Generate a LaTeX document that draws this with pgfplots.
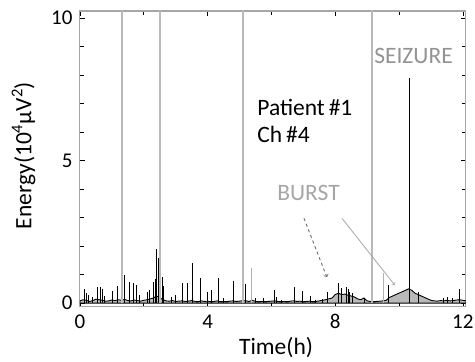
\documentclass[border=0pt]{standalone}
\usepackage{pgfplots}
\pgfplotsset{compat=1.18}
\usepackage{fontspec}
\setmainfont{Carlito}
\begin{document}
\begin{tikzpicture}
\useasboundingbox (-80pt,-56pt) rectangle (395pt,306pt);
\begin{axis}[
  at={(0pt,0pt)}, anchor=south west,
  scale only axis,
  width=386pt, height=295pt,
  xmin=0, xmax=12.1, ymin=-0.1, ymax=10.25,
  xtick={0,4,8,12}, minor xtick={2,6,10},
  ytick={0,5,10}, minor ytick={1,2,3,4,6,7,8,9},
  /pgf/number format/assume math mode=true,
  tick label style={font=\fontsize{21}{24}\selectfont},
  xticklabel style={yshift=-5pt},
  yticklabel style={xshift=-4pt},
  axis line style={gray!70, line width=1pt},
  tick style={black, line width=0.6pt},
  major tick length=5pt, minor tick length=4pt,
  clip=true,
  xlabel={Time(h)},
  ylabel={Energy(10\textsuperscript{4}μV\textsuperscript{2})},
  label style={font=\fontsize{23.5}{28}\selectfont},
  xlabel style={at={(axis description cs:0.508,-0.142)}, anchor=center},
  ylabel style={at={(axis description cs:-0.146,0.51)}, anchor=center, rotate=0},
]
% baseline energy
\addplot[draw=black, line width=0.9pt, fill=gray!55] table {
x y
0.0 0.08
0.1 0.12
0.2 0.10
0.3 0.06
0.4 0.09
0.5 0.14
0.6 0.12
0.7 0.10
0.8 0.07
0.9 0.08
1.0 0.11
1.1 0.09
1.2 0.12
1.3 0.10
1.4 0.13
1.5 0.09
1.6 0.08
1.7 0.11
1.8 0.09
1.9 0.07
2.0 0.10
2.1 0.12
2.2 0.15
2.3 0.18
2.4 0.25
2.5 0.20
2.6 0.12
2.7 0.08
2.8 0.07
2.9 0.09
3.0 0.06
3.1 0.07
3.2 0.08
3.3 0.06
3.4 0.07
3.5 0.09
3.6 0.06
3.7 0.05
3.8 0.08
3.9 0.06
4.0 0.07
4.1 0.05
4.2 0.06
4.3 0.08
4.4 0.05
4.5 0.06
4.6 0.05
4.7 0.07
4.8 0.08
4.9 0.06
5.0 0.07
5.1 0.09
5.2 0.08
5.3 0.06
5.4 0.10
5.5 0.06
5.6 0.05
5.7 0.06
5.8 0.05
5.9 0.06
6.0 0.07
6.1 0.08
6.2 0.06
6.3 0.05
6.4 0.06
6.5 0.05
6.6 0.07
6.7 0.08
6.8 0.06
6.9 0.07
7.0 0.05
7.1 0.06
7.2 0.07
7.3 0.05
7.4 0.06
7.5 0.08
7.6 0.10
7.7 0.12
7.8 0.15
7.9 0.18
8.0 0.30
8.1 0.35
8.2 0.30
8.3 0.32
8.4 0.28
8.5 0.25
8.6 0.22
8.7 0.15
8.8 0.12
8.9 0.18
9.0 0.08
9.1 0.06
9.2 0.05
9.3 0.06
9.4 0.07
9.5 0.08
9.6 0.10
9.7 0.20
9.8 0.25
9.9 0.30
10.0 0.35
10.1 0.40
10.2 0.45
10.3 0.50
10.4 0.45
10.5 0.35
10.6 0.30
10.7 0.25
10.8 0.20
10.9 0.15
11.0 0.10
11.1 0.08
11.2 0.07
11.3 0.09
11.4 0.08
11.5 0.10
11.6 0.08
11.7 0.09
11.8 0.11
11.9 0.12
12.0 0.10
12.1 0.08
} \closedcycle;
% spikes
\addplot[ycomb, black, line width=0.9pt] table {
x y
0.13 0.49
0.19 0.35
0.25 0.30
0.40 0.22
0.56 0.56
0.63 0.55
0.69 0.49
0.78 0.25
1.03 0.42
1.16 0.60
1.38 0.98
1.54 0.74
1.69 0.70
1.78 0.63
1.85 0.30
2.10 0.39
2.19 0.46
2.29 0.74
2.36 0.85
2.41 1.90
2.45 1.60
2.57 0.91
2.62 0.60
2.88 0.21
2.98 0.28
3.20 0.70
3.36 0.70
3.54 1.40
3.79 0.88
4.00 0.39
4.13 0.46
4.33 0.88
4.51 0.18
4.80 0.77
5.08 0.56
5.20 0.67
5.49 0.18
5.74 0.18
6.08 0.46
6.17 0.21
6.33 0.12
6.71 0.56
6.96 0.42
7.21 0.25
7.37 0.12
7.59 0.15
7.77 0.39
8.09 0.70
8.21 0.53
8.34 0.56
8.40 0.49
8.46 0.39
8.55 0.35
8.93 0.18
9.68 0.63
10.60 0.39
11.38 0.18
11.53 0.21
11.69 0.18
11.91 0.49
};
% grey spikes
\addplot[ycomb, gray!60, line width=1.1pt] table {
x y
5.39 1.23
9.50 1.05
};
% artefact lines (full scale)
\addplot[ycomb, gray!55, line width=1.8pt] table {
x y
1.32 11
2.51 11
5.11 11
9.15 11
};
% seizure spike
\addplot[ycomb, black, line width=0.9pt] table {
x y
10.34 7.9
};
\node[anchor=base west, font=\fontsize{23.5}{28}\selectfont] at (axis cs:5.45,6.6) {Patient\,\#1};
\node[anchor=base west, font=\fontsize{23.5}{28}\selectfont] at (axis cs:5.45,5.65) {Ch\,\#4};
\node[anchor=base west, inner sep=0pt, text=gray!85, font=\fontsize{23.5}{28}\selectfont] at (axis cs:9.22,8.42) {SEIZURE};
\node[anchor=base west, inner sep=0pt, text=gray!70, font=\fontsize{23.5}{28}\selectfont] at (axis cs:6.18,3.61) {BURST};
\draw[->, gray!85!black, dashed, line width=0.9pt] (axis cs:7.02,2.98) -- (axis cs:7.74,0.91);
\draw[->, gray!70, line width=0.8pt] (axis cs:8.21,2.98) -- (axis cs:9.87,0.63);
\end{axis}
\end{tikzpicture}
\end{document}
